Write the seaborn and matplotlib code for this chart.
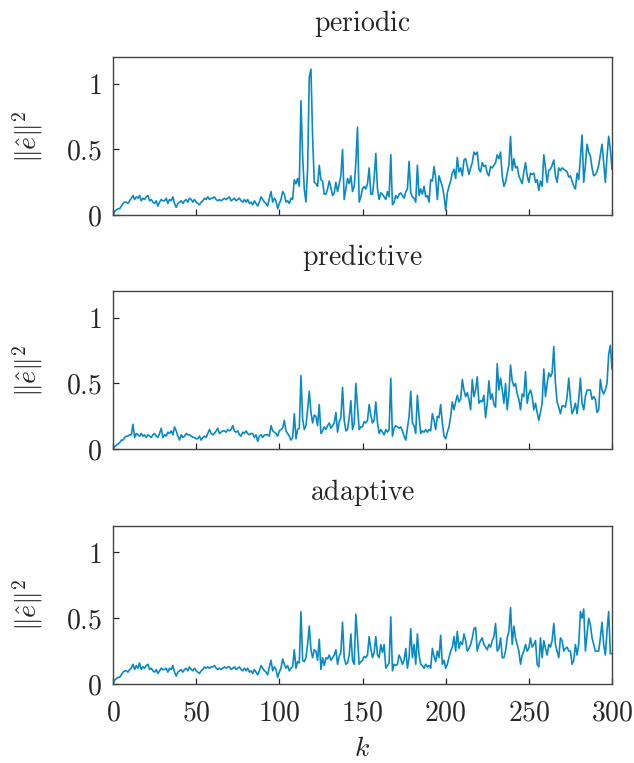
"""
Squared estimation error for three triggering schemes (periodic, predictive, adaptive).
Output: out.png
"""

import matplotlib

matplotlib.use("Agg")
import matplotlib.pyplot as plt
import numpy as np
import pandas as pd
import seaborn as sns


LINE_COLOR = "#0a8ac4"
SPINE_COLOR = "#444444"

TITLES = ["periodic", "predictive", "adaptive"]
X_TICKS = [0, 50, 100, 150, 200, 250, 300]
Y_TICKS = [0, 0.5, 1]
Y_TICK_LABELS = ["0", "0.5", "1"]

# values, one per time step k = 0..300
PERIODIC = [
    0.00, 0.03, 0.04, 0.05, 0.05, 0.07, 0.09, 0.10, 0.10, 0.09, 0.11,
    0.13, 0.15, 0.12, 0.14, 0.13, 0.15, 0.11, 0.13, 0.12, 0.14,
    0.15, 0.11, 0.12, 0.10, 0.09, 0.11, 0.07, 0.10, 0.12, 0.11,
    0.11, 0.13, 0.09, 0.12, 0.11, 0.14, 0.09, 0.06, 0.09, 0.10,
    0.11, 0.09, 0.11, 0.12, 0.10, 0.13, 0.12, 0.10, 0.12, 0.10,
    0.09, 0.08, 0.10, 0.11, 0.13, 0.12, 0.14, 0.12, 0.13, 0.13,
    0.14, 0.12, 0.11, 0.12, 0.11, 0.12, 0.13, 0.12, 0.13, 0.14,
    0.11, 0.12, 0.13, 0.11, 0.12, 0.13, 0.11, 0.10, 0.12, 0.10,
    0.12, 0.09, 0.10, 0.08, 0.11, 0.09, 0.07, 0.10, 0.14, 0.12,
    0.10, 0.09, 0.07, 0.13, 0.18, 0.10, 0.13, 0.11, 0.05, 0.09,
    0.12, 0.18, 0.16, 0.10, 0.11, 0.09, 0.13, 0.12, 0.27, 0.24,
    0.28, 0.22, 0.87, 0.45, 0.20, 0.10, 0.35, 1.05, 1.11, 0.60,
    0.25, 0.24, 0.22, 0.38, 0.27, 0.26, 0.16, 0.16, 0.20, 0.26,
    0.21, 0.15, 0.17, 0.25, 0.18, 0.24, 0.30, 0.50, 0.12, 0.20,
    0.28, 0.24, 0.30, 0.18, 0.22, 0.40, 0.67, 0.10, 0.14, 0.20,
    0.22, 0.20, 0.24, 0.36, 0.16, 0.16, 0.28, 0.47, 0.20, 0.12,
    0.17, 0.16, 0.14, 0.12, 0.18, 0.14, 0.46, 0.08, 0.10, 0.15,
    0.13, 0.16, 0.17, 0.15, 0.13, 0.18, 0.20, 0.41, 0.17, 0.14,
    0.13, 0.10, 0.38, 0.15, 0.20, 0.16, 0.22, 0.14, 0.15, 0.10,
    0.27, 0.26, 0.37, 0.28, 0.12, 0.30, 0.26, 0.22, 0.15, 0.04,
    0.17, 0.22, 0.26, 0.32, 0.35, 0.28, 0.44, 0.33, 0.36, 0.30,
    0.42, 0.43, 0.37, 0.31, 0.36, 0.40, 0.48, 0.46, 0.48, 0.35,
    0.33, 0.40, 0.37, 0.38, 0.32, 0.30, 0.37, 0.36, 0.38, 0.40,
    0.46, 0.43, 0.48, 0.30, 0.22, 0.25, 0.32, 0.38, 0.60, 0.34,
    0.43, 0.36, 0.37, 0.30, 0.27, 0.24, 0.33, 0.40, 0.30, 0.25,
    0.32, 0.31, 0.32, 0.25, 0.27, 0.19, 0.26, 0.22, 0.46, 0.36,
    0.25, 0.34, 0.35, 0.38, 0.42, 0.30, 0.25, 0.36, 0.34, 0.36,
    0.35, 0.34, 0.33, 0.29, 0.30, 0.26, 0.22, 0.20, 0.32, 0.27,
    0.44, 0.61, 0.25, 0.38, 0.54, 0.48, 0.45, 0.36, 0.30, 0.31,
    0.33, 0.38, 0.46, 0.54, 0.40, 0.25, 0.45, 0.60, 0.50, 0.35,
]

PREDICTIVE = [
    0.00, 0.02, 0.03, 0.04, 0.05, 0.07, 0.07, 0.09, 0.10, 0.10, 0.11,
    0.11, 0.19, 0.09, 0.12, 0.11, 0.10, 0.12, 0.10, 0.11, 0.09,
    0.11, 0.10, 0.09, 0.11, 0.12, 0.10, 0.09, 0.12, 0.16, 0.09,
    0.11, 0.10, 0.13, 0.12, 0.14, 0.11, 0.17, 0.14, 0.10, 0.07,
    0.11, 0.09, 0.10, 0.12, 0.11, 0.11, 0.10, 0.09, 0.09, 0.08,
    0.08, 0.10, 0.07, 0.09, 0.10, 0.09, 0.12, 0.15, 0.12, 0.11,
    0.12, 0.14, 0.16, 0.12, 0.13, 0.14, 0.14, 0.13, 0.15, 0.14,
    0.15, 0.18, 0.14, 0.13, 0.14, 0.11, 0.10, 0.13, 0.12, 0.14,
    0.12, 0.11, 0.12, 0.12, 0.09, 0.11, 0.06, 0.10, 0.11, 0.09,
    0.11, 0.11, 0.11, 0.10, 0.18, 0.14, 0.13, 0.12, 0.10, 0.14,
    0.15, 0.16, 0.22, 0.14, 0.12, 0.10, 0.07, 0.09, 0.27, 0.08,
    0.15, 0.16, 0.56, 0.23, 0.15, 0.18, 0.30, 0.44, 0.28, 0.20,
    0.26, 0.25, 0.18, 0.34, 0.12, 0.14, 0.17, 0.15, 0.18, 0.20,
    0.16, 0.18, 0.20, 0.28, 0.13, 0.21, 0.24, 0.47, 0.22, 0.14,
    0.15, 0.24, 0.37, 0.15, 0.20, 0.50, 0.32, 0.15, 0.17, 0.17,
    0.21, 0.20, 0.22, 0.34, 0.26, 0.20, 0.22, 0.36, 0.20, 0.12,
    0.15, 0.13, 0.11, 0.15, 0.13, 0.15, 0.54, 0.10, 0.16, 0.18,
    0.17, 0.16, 0.17, 0.14, 0.10, 0.07, 0.16, 0.25, 0.44, 0.20,
    0.18, 0.12, 0.41, 0.25, 0.12, 0.14, 0.13, 0.15, 0.13, 0.15,
    0.14, 0.27, 0.22, 0.15, 0.25, 0.24, 0.34, 0.20, 0.10, 0.08,
    0.13, 0.17, 0.25, 0.36, 0.30, 0.36, 0.41, 0.36, 0.38, 0.53,
    0.45, 0.40, 0.43, 0.38, 0.30, 0.53, 0.40, 0.45, 0.55, 0.35,
    0.37, 0.36, 0.41, 0.24, 0.35, 0.52, 0.38, 0.42, 0.34, 0.32,
    0.65, 0.45, 0.54, 0.45, 0.35, 0.50, 0.30, 0.42, 0.64, 0.52,
    0.48, 0.50, 0.42, 0.38, 0.30, 0.42, 0.40, 0.59, 0.35, 0.42,
    0.45, 0.40, 0.30, 0.35, 0.28, 0.22, 0.28, 0.35, 0.61, 0.40,
    0.50, 0.58, 0.55, 0.58, 0.78, 0.50, 0.36, 0.32, 0.27, 0.33,
    0.33, 0.32, 0.40, 0.54, 0.38, 0.27, 0.30, 0.35, 0.27, 0.38,
    0.54, 0.35, 0.30, 0.40, 0.45, 0.45, 0.45, 0.38, 0.40, 0.38,
    0.28, 0.30, 0.53, 0.45, 0.42, 0.45, 0.50, 0.72, 0.79, 0.61,
]

ADAPTIVE = [
    0.00, 0.03, 0.04, 0.05, 0.05, 0.07, 0.09, 0.10, 0.10, 0.09, 0.11,
    0.12, 0.15, 0.11, 0.14, 0.12, 0.16, 0.11, 0.13, 0.12, 0.14,
    0.15, 0.11, 0.12, 0.10, 0.09, 0.11, 0.08, 0.10, 0.12, 0.11,
    0.11, 0.12, 0.09, 0.12, 0.11, 0.14, 0.09, 0.06, 0.09, 0.10,
    0.11, 0.09, 0.11, 0.12, 0.10, 0.13, 0.11, 0.10, 0.12, 0.10,
    0.09, 0.08, 0.10, 0.11, 0.13, 0.12, 0.13, 0.12, 0.13, 0.13,
    0.14, 0.12, 0.11, 0.12, 0.11, 0.12, 0.13, 0.12, 0.13, 0.13,
    0.11, 0.12, 0.13, 0.11, 0.12, 0.13, 0.11, 0.10, 0.12, 0.10,
    0.12, 0.09, 0.10, 0.08, 0.11, 0.09, 0.07, 0.10, 0.14, 0.12,
    0.10, 0.09, 0.07, 0.13, 0.18, 0.10, 0.13, 0.11, 0.05, 0.09,
    0.12, 0.19, 0.15, 0.12, 0.14, 0.10, 0.12, 0.13, 0.26, 0.12,
    0.17, 0.16, 0.55, 0.18, 0.17, 0.20, 0.30, 0.44, 0.26, 0.20,
    0.26, 0.25, 0.18, 0.34, 0.11, 0.20, 0.14, 0.20, 0.19, 0.22,
    0.18, 0.20, 0.22, 0.26, 0.15, 0.21, 0.24, 0.47, 0.20, 0.15,
    0.16, 0.22, 0.38, 0.18, 0.15, 0.53, 0.35, 0.15, 0.17, 0.18,
    0.21, 0.20, 0.22, 0.36, 0.27, 0.20, 0.24, 0.36, 0.22, 0.20,
    0.30, 0.24, 0.30, 0.12, 0.14, 0.16, 0.51, 0.10, 0.15, 0.14,
    0.15, 0.22, 0.19, 0.15, 0.18, 0.27, 0.12, 0.20, 0.42, 0.20,
    0.30, 0.15, 0.38, 0.22, 0.15, 0.14, 0.12, 0.15, 0.13, 0.14,
    0.12, 0.27, 0.21, 0.17, 0.25, 0.20, 0.37, 0.15, 0.18, 0.12,
    0.15, 0.20, 0.25, 0.28, 0.36, 0.25, 0.40, 0.27, 0.32, 0.30,
    0.38, 0.33, 0.25, 0.27, 0.30, 0.35, 0.42, 0.43, 0.25, 0.30,
    0.33, 0.35, 0.30, 0.28, 0.26, 0.30, 0.28, 0.33, 0.36, 0.46,
    0.25, 0.27, 0.35, 0.20, 0.20, 0.25, 0.35, 0.40, 0.58, 0.30,
    0.44, 0.35, 0.30, 0.25, 0.15, 0.22, 0.25, 0.30, 0.25, 0.27,
    0.35, 0.28, 0.30, 0.33, 0.15, 0.13, 0.35, 0.20, 0.33, 0.27,
    0.22, 0.30, 0.28, 0.33, 0.46, 0.30, 0.25, 0.20, 0.35, 0.33,
    0.25, 0.27, 0.28, 0.25, 0.25, 0.15, 0.18, 0.30, 0.22, 0.30,
    0.55, 0.50, 0.57, 0.25, 0.38, 0.50, 0.45, 0.35, 0.30, 0.25,
    0.25, 0.25, 0.35, 0.47, 0.30, 0.22, 0.40, 0.55, 0.23, 0.23,
]

sns.set_theme(style="white")
plt.rcParams["font.family"] = ["DejaVu Serif"]
plt.rcParams["mathtext.fontset"] = "cm"

FONT_SIZE = 20


def draw_panel(ax, values, title, show_xlabels):
    frame = pd.DataFrame({"k": np.arange(len(values)), "err": values})
    sns.lineplot(data=frame, x="k", y="err", ax=ax, color=LINE_COLOR, linewidth=1.2)

    ax.set_xlim(0, 300)
    ax.set_ylim(0, 1.2)
    ax.set_xticks(X_TICKS)
    ax.set_yticks(Y_TICKS)
    ax.set_yticklabels([f"${label}$" for label in Y_TICK_LABELS], fontsize=FONT_SIZE)
    if show_xlabels:
        ax.set_xticklabels([f"${tick}$" for tick in X_TICKS], fontsize=FONT_SIZE)
        ax.set_xlabel("$k$", fontsize=FONT_SIZE, labelpad=6)
    else:
        ax.set_xticklabels([])
        ax.set_xlabel("")

    ax.set_ylabel(r"$\|\hat{e}\|^2$", fontsize=FONT_SIZE)
    ax.yaxis.set_label_coords(-0.136, 0.5)
    ax.set_title(r"$\mathrm{" + title + "}$", fontsize=FONT_SIZE, pad=19)

    ax.tick_params(
        axis="both",
        direction="in",
        length=4,
        width=0.9,
        color="#222222",
        bottom=True,
        left=True,
        top=False,
        right=False,
    )
    ax.tick_params(axis="x", pad=11)
    ax.tick_params(axis="y", pad=8)
    for spine in ax.spines.values():
        spine.set_color(SPINE_COLOR)
        spine.set_linewidth(1.0)


def main() -> None:
    fig = plt.figure(figsize=(6.34, 7.63), dpi=100)
    width_px, height_px = 634, 763
    left = 113 / width_px
    width = 499 / width_px
    height = 158 / height_px
    bottoms_px = [215.3, 449.3, 684.0]

    series = [PERIODIC, PREDICTIVE, ADAPTIVE]
    for index, (values, title) in enumerate(zip(series, TITLES)):
        bottom = 1 - bottoms_px[index] / height_px
        ax = fig.add_axes([left, bottom, width, height])
        draw_panel(ax, values, title, show_xlabels=(index == 2))

    fig.savefig("out.png", dpi=100)
    plt.close(fig)


if __name__ == "__main__":
    main()
